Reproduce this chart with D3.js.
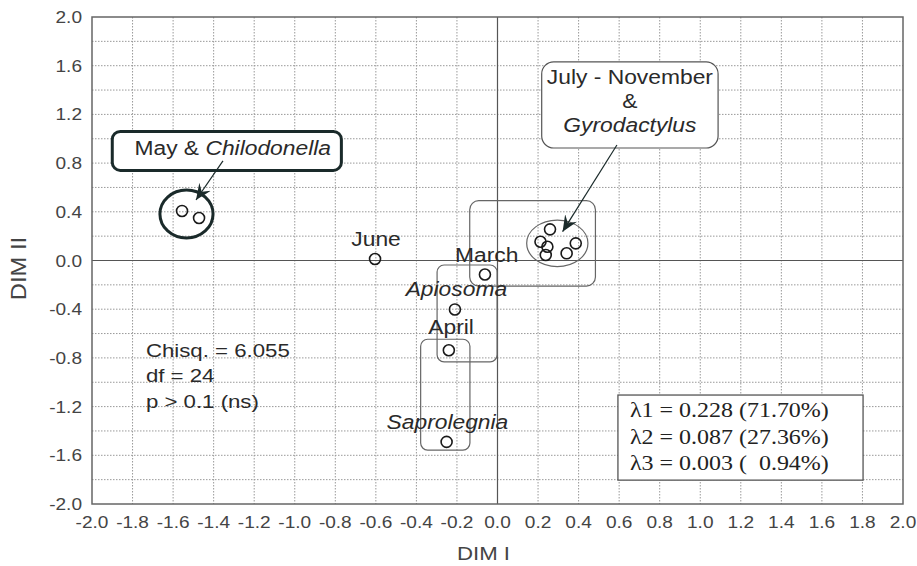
<!DOCTYPE html>
<html>
<head>
<meta charset="utf-8">
<script src="https://cdn.jsdelivr.net/npm/d3@7"></script>
<style>
  body { margin: 0; background: #fff; }
  text { font-family: Arial, "Liberation Sans", sans-serif; fill: #333; }
  .tick { font-size: 16.3px; fill: #444; }
  .lbl { font-size: 19.5px; fill: #2a2a2a; }
  .lam { font-family: "Liberation Serif", "Times New Roman", serif; font-size: 20.5px; fill: #222; }
</style>
</head>
<body>
<svg class="chart" width="917" height="566"></svg>
<script>
// points (DIM I, DIM II)
var mayPts = [[-1.556, 0.407], [-1.472, 0.349]];
var junePt = [[-0.604, 0.012]];
var marchPt = [[-0.062, -0.115]];
var apiosomaPt = [[-0.210, -0.402]];
var aprilPt = [[-0.240, -0.737]];
var saproPt = [[-0.251, -1.490]];
var gyroPts = [[0.259, 0.256], [0.212, 0.154], [0.246, 0.113], [0.238, 0.045], [0.386, 0.141], [0.341, 0.059]];

var xTicks = d3.range(-2, 2.0001, 0.2);
var yTicks = d3.range(-2, 2.0001, 0.4);
var yGrid = d3.range(-2, 2.0001, 0.2);

// labels next to points: [text, x, y, italic]
var pointLabels = [
  ['June', -0.599, 0.119, false],
  ['March', -0.053, -0.010, false],
  ['Apiosoma', -0.203, -0.292, true],
  ['April', -0.229, -0.607, false],
  ['Saprolegnia', -0.247, -1.385, true]
];
var statLines = ['Chisq. = 6.055', 'df = 24', 'p > 0.1 (ns)'];
var lambdaLines = ['\u03bb1 = 0.228 (71.70%)', '\u03bb2 = 0.087 (27.36%)', '\u03bb3 = 0.003 (\u00a0 0.94%)'];

var SX = 1.17; // text in the picture is a little wide
var x = d3.scaleLinear().domain([-2, 2]).range([92, 903]);
var y = d3.scaleLinear().domain([-2, 2]).range([504, 17]);

var svg = d3.select('svg.chart');

function txt(px, py, s, cls, anchor) {
  return svg.append('text').attr('class', cls)
    .attr('transform', 'translate(' + px + ',' + py + ') scale(' + SX + ',1)')
    .attr('text-anchor', anchor || 'start').text(s);
}

// grid
var grid = svg.append('g').attr('stroke', '#999').attr('stroke-width', 1)
  .attr('stroke-dasharray', '1.5,1.5');
grid.selectAll('line.vx').data(xTicks.slice(1, -1)).enter().append('line')
  .attr('x1', d => x(d)).attr('x2', d => x(d)).attr('y1', y(2)).attr('y2', y(-2));
grid.selectAll('line.hy').data(yGrid.slice(1, -1)).enter().append('line')
  .attr('y1', d => y(d)).attr('y2', d => y(d)).attr('x1', x(-2)).attr('x2', x(2));

// zero lines
svg.append('line').attr('x1', x(0)).attr('x2', x(0)).attr('y1', y(2)).attr('y2', y(-2))
  .attr('stroke', '#555').attr('stroke-width', 1.2);
svg.append('line').attr('x1', x(-2)).attr('x2', x(2)).attr('y1', y(0)).attr('y2', y(0))
  .attr('stroke', '#555').attr('stroke-width', 1.2);

// frame
svg.append('rect').attr('x', x(-2)).attr('y', y(2))
  .attr('width', x(2) - x(-2)).attr('height', y(-2) - y(2))
  .attr('fill', 'none').attr('stroke', '#666').attr('stroke-width', 1.5);

// tick labels
var fmt = d => d3.format('.1f')(d).replace('\u2212', '-');
xTicks.forEach(d => txt(x(d), 528, fmt(d), 'tick', 'middle'));
yTicks.forEach(d => txt(82, y(d) + 6, fmt(d), 'tick', 'end'));

txt(x(0) - 14, 560, 'DIM I', 'lbl', 'middle').style('font-size', '19px').style('fill', '#444');
svg.append('text').attr('transform', 'translate(26,' + (y(0) + 8) + ') rotate(-90) scale(1.25,' + SX + ')')
  .attr('text-anchor', 'middle').style('font-size', '19px').style('fill', '#444').text('DIM II');

// arrow marker
svg.append('defs').append('marker').attr('id', 'arr')
  .attr('viewBox', '-16 -8 18 16').attr('refX', 0).attr('refY', 0)
  .attr('markerWidth', 18).attr('markerHeight', 16).attr('markerUnits', 'userSpaceOnUse')
  .attr('orient', 'auto')
  .append('path').attr('d', 'M0,0 L-16,-7 L-10,0 L-16,7 Z').attr('fill', '#1a2a2a');

// group boxes
function box(x0, x1, y0, y1, r, sw, col) {
  svg.append('rect').attr('x', x(x0)).attr('y', y(y0))
    .attr('width', x(x1) - x(x0)).attr('height', y(y1) - y(y0))
    .attr('rx', r).attr('fill', 'none').attr('stroke', col).attr('stroke-width', sw);
}
box(-0.137, 0.483, 0.491, -0.210, 9, 1.2, '#666');
box(-0.298, -0.002, -0.037, -0.832, 7, 1.2, '#666');
box(-0.379, -0.136, -0.647, -1.557, 7, 1.2, '#666');

// ellipses around clusters
svg.append('ellipse').attr('cx', x(0.295)).attr('cy', y(0.141))
  .attr('rx', x(0.151) - x(0)).attr('ry', y(0) - y(0.191))
  .attr('fill', 'none').attr('stroke', '#666').attr('stroke-width', 1.2);
svg.append('ellipse').attr('cx', x(-1.534)).attr('cy', y(0.382))
  .attr('rx', x(0.131) - x(0)).attr('ry', y(0) - y(0.197))
  .attr('fill', 'none').attr('stroke', '#1a2a2a').attr('stroke-width', 3);

// callout boxes
svg.append('rect').attr('x', x(-1.9)).attr('y', y(1.06))
  .attr('width', x(-0.77) - x(-1.9)).attr('height', y(0.74) - y(1.06))
  .attr('rx', 8).attr('fill', '#fff').attr('stroke', '#1a2a2a').attr('stroke-width', 3);
svg.append('rect').attr('x', x(0.218)).attr('y', y(1.631))
  .attr('width', x(1.088) - x(0.218)).attr('height', y(0.924) - y(1.631))
  .attr('rx', 12).attr('fill', '#fff').attr('stroke', '#555').attr('stroke-width', 1.2);

var t1 = txt(x(-1.306), y(0.867), '', 'lbl', 'middle');
t1.append('tspan').text('May & ');
t1.append('tspan').style('font-style', 'italic').text('Chilodonella');

txt(x(0.653), y(1.45), 'July - November', 'lbl', 'middle');
txt(x(0.653), y(1.253), '&', 'lbl', 'middle');
txt(x(0.653), y(1.056), 'Gyrodactylus', 'lbl', 'middle').style('font-style', 'italic');

// arrows
svg.append('line').attr('x1', x(-1.354)).attr('y1', y(0.818)).attr('x2', x(-1.487)).attr('y2', y(0.497))
  .attr('stroke', '#1a2a2a').attr('stroke-width', 1.2).attr('marker-end', 'url(#arr)');
svg.append('line').attr('x1', x(0.589)).attr('y1', y(0.949)).attr('x2', x(0.321)).attr('y2', y(0.237))
  .attr('stroke', '#1a2a2a').attr('stroke-width', 1.2).attr('marker-end', 'url(#arr)');

// points
var allPts = [].concat(mayPts, junePt, marchPt, apiosomaPt, aprilPt, saproPt, gyroPts);
svg.selectAll('circle.pt').data(allPts).enter().append('circle')
  .attr('cx', d => x(d[0])).attr('cy', d => y(d[1])).attr('r', 5.5)
  .attr('fill', 'none').attr('stroke', '#1a1a1a').attr('stroke-width', 1.6);

// point labels
pointLabels.forEach(d => txt(x(d[1]), y(d[2]), d[0], 'lbl', 'middle')
  .style('font-style', d[3] ? 'italic' : 'normal'));

// stats
statLines.forEach((d, i) => txt(x(-1.734), y(-0.790) + i * 25.5, d, 'lbl').style('font-size', '19px'));

// eigenvalue box
svg.append('rect').attr('x', x(0.594)).attr('y', y(-1.105))
  .attr('width', x(1.803) - x(0.594)).attr('height', y(-1.804) - y(-1.105))
  .attr('fill', '#fff').attr('stroke', '#555').attr('stroke-width', 1.3);
lambdaLines.forEach((d, i) => txt(x(0.653), y(-1.286) + i * 26.5, d, 'lam'));
</script>
</body>
</html>
